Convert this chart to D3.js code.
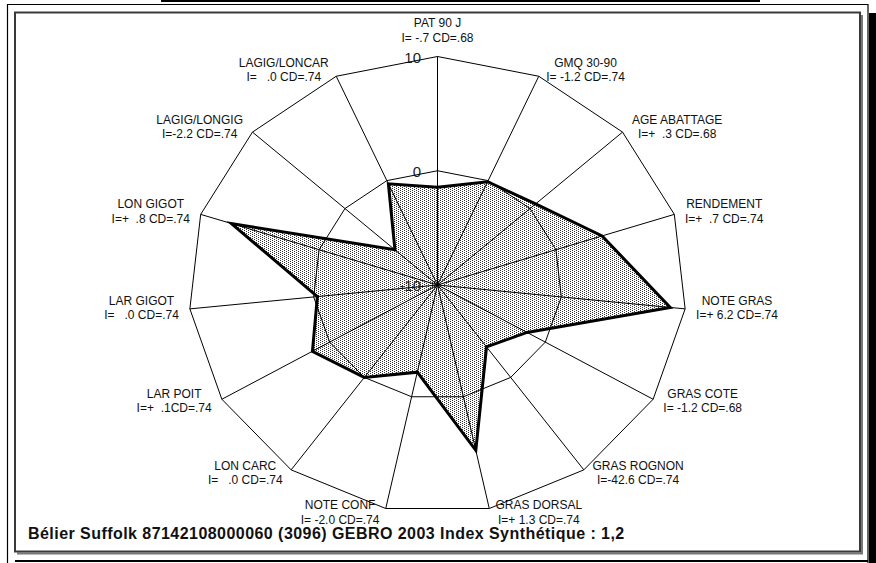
<!DOCTYPE html>
<html>
<head>
<meta charset="utf-8">
<title>Radar GEBRO</title>
<script src="https://cdnjs.cloudflare.com/ajax/libs/d3/7.8.5/d3.min.js"></script>
<style>
  body { margin: 0; background: #fff; }
  svg text { font-family: "Liberation Sans", Arial, sans-serif; white-space: pre; }
</style>
</head>
<body>
<div id="chart"></div>
<script>
// axes (clockwise from the top) and the line printed under each name
var axes = ["PAT 90 J", "GMQ 30-90", "AGE ABATTAGE", "RENDEMENT", "NOTE GRAS",
            "GRAS COTE", "GRAS ROGNON", "GRAS DORSAL", "NOTE CONF", "LON CARC",
            "LAR POIT", "LAR GIGOT", "LON GIGOT", "LAGIG/LONGIG", "LAGIG/LONCAR"];
var indexLabels = ["I= -.7 CD=.68", "I= -1.2 CD=.74", "I=+  .3 CD=.68", "I=+  .7 CD=.74",
                   "I=+ 6.2 CD=.74", "I= -1.2 CD=.68", "I=-42.6 CD=.74", "I=+ 1.3 CD=.74",
                   "I= -2.0 CD=.74", "I=   .0 CD=.74", "I=+  .1CD=.74", "I=   .0 CD=.74",
                   "I=+  .8 CD=.74", "I=-2.2 CD=.74", "I=   .0 CD=.74"];
// values
var values = [-1.45, -0.1, 0.6, 3.9, 8.8, -1.7, -3.3, 4.8, -2.2, 0.0, 1.6, -0.3, 7.4, -5.4, -0.3];
var ticks = [-10, 0, 10];
var title = "Bélier Suffolk 87142108000060 (3096) GEBRO 2003 Index Synthétique : 1,2";

var width = 876, height = 563;
var cx = 437.5, cy = 285;

var svg = d3.select("#chart").append("svg")
    .attr("width", width)
    .attr("height", height);

/* fill pattern : fine grey dots */
var pat = svg.append("defs").append("pattern")
    .attr("id", "dots")
    .attr("patternUnits", "userSpaceOnUse")
    .attr("width", 4).attr("height", 2);
pat.append("rect").attr("width", 4).attr("height", 2).attr("fill", "#fff");
pat.append("rect").attr("x", 0).attr("y", 0).attr("width", 1).attr("height", 1).attr("fill", "#333");
pat.append("rect").attr("x", 2).attr("y", 1).attr("width", 1).attr("height", 1).attr("fill", "#333");

/* frame */
svg.append("line").attr("x1", 161).attr("x2", 760).attr("y1", 1).attr("y2", 1)
    .attr("stroke", "#000").attr("stroke-width", 2);
svg.append("path")
    .attr("d", "M7.5,563 V4.5 H868 V563")
    .attr("fill", "none").attr("stroke", "#000").attr("stroke-width", 1.2);
svg.append("rect").attr("x", 869).attr("y", 13).attr("width", 7).attr("height", 550).attr("fill", "#000");
svg.append("line").attr("x1", 15).attr("x2", 868).attr("y1", 561).attr("y2", 561)
    .attr("stroke", "#000").attr("stroke-width", 2);
svg.append("path")
    .attr("d", "M862,15 V553.5 H17")
    .attr("fill", "none").attr("stroke", "#777").attr("stroke-width", 2);
svg.append("rect").attr("x", 15).attr("y", 12.5).attr("width", 845).attr("height", 539)
    .attr("fill", "#fff").attr("stroke", "#3a3a3a").attr("stroke-width", 2);

/* scales : the plot is a little wider than tall */
var rx = d3.scaleLinear().domain([-10, 10]).range([0, 249]);
var ry = d3.scaleLinear().domain([-10, 10]).range([0, 228.5]);
var angle = d3.scaleLinear().domain([0, axes.length]).range([0, 2 * Math.PI]);

function pos(i, v) {
    var a = angle(i);
    return [cx + rx(v) * Math.sin(a), cy - ry(v) * Math.cos(a)];
}

var line = d3.line().curve(d3.curveLinearClosed);
var g = svg.append("g");

// filled area
g.append("path")
    .attr("d", line(values.map(function (v, i) { return pos(i, v); })))
    .attr("fill", "url(#dots)");

// tick labels
g.selectAll(".tick").data(ticks).enter().append("text")
    .attr("x", cx - 16.5)
    .attr("y", function (t) { return cy - ry(t) + 6; })
    .attr("text-anchor", "end")
    .attr("font-size", 15)
    .attr("fill", "#222")
    .text(function (t) { return t; });

// rings (skip the centre)
ticks.filter(function (t) { return t > -10; }).forEach(function (t) {
    g.append("path")
        .attr("d", line(axes.map(function (a, i) { return pos(i, t); })))
        .attr("fill", "none").attr("stroke", "#000").attr("stroke-width", 1);
});

// spokes
g.selectAll(".spoke").data(axes).enter().append("line")
    .attr("x1", cx).attr("y1", cy)
    .attr("x2", function (d, i) { return pos(i, 10)[0]; })
    .attr("y2", function (d, i) { return pos(i, 10)[1]; })
    .attr("stroke", "#000").attr("stroke-width", 1);

// series outline
g.append("path")
    .attr("d", line(values.map(function (v, i) { return pos(i, v); })))
    .attr("fill", "none").attr("stroke", "#000").attr("stroke-width", 3)
    .attr("stroke-linejoin", "miter");

// category labels
axes.forEach(function (name, i) {
    var a = angle(i), p = pos(i, 10);
    var s = Math.sin(a), c = Math.cos(a);
    var lab = g.append("text").attr("font-size", 12).attr("fill", "#111")
        .attr("text-anchor", "middle");
    var t1 = lab.append("tspan").text(name);
    var t2 = lab.append("tspan").text(indexLabels[i]);
    var w = Math.max(t1.node().getComputedTextLength(), t2.node().getComputedTextLength());
    var x, b1;
    if (Math.abs(s) < 0.01) {
        x = p[0];
        b1 = p[1] - 29.5;
    } else {
        var gap = 5 + 6 * Math.abs(s);
        x = s > 0 ? p[0] + gap + w / 2 : p[0] - gap - w / 2;
        b1 = p[1] - 4.5 - 5.5 * c;
    }
    t1.attr("x", x).attr("y", b1);
    t2.attr("x", x).attr("y", b1 + 14.5);
});

// title
svg.append("text")
    .attr("x", 28).attr("y", 539)
    .attr("font-size", 16).attr("font-weight", "bold")
    .attr("letter-spacing", 0.45)
    .attr("fill", "#111")
    .text(title);
</script>
</body>
</html>
